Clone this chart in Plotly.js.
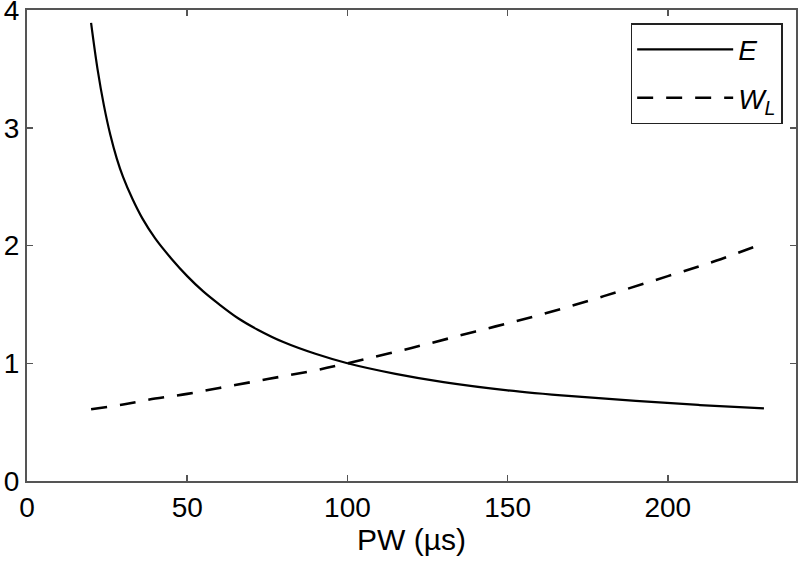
<!DOCTYPE html>
<html>
<head>
<meta charset="utf-8">
<script src="https://cdn.plot.ly/plotly-3.0.1.min.js"></script>
<style>
  html, body { margin: 0; padding: 0; background: #fff; }
  #chart { width: 800px; height: 562px; }
</style>
</head>
<body>
<div id="chart"></div>
<script>
// Pulse width (us) and the two normalised curves
const pwE = [20, 22, 24, 26, 28, 30, 33, 36, 40, 45, 50, 55, 60, 66, 72, 80, 90, 100, 115, 130, 150, 170, 190, 210, 230];
const valuesE = [3.89, 3.50, 3.19, 2.94, 2.74, 2.58, 2.39, 2.23, 2.06, 1.89, 1.74, 1.61, 1.50, 1.38, 1.285, 1.18, 1.08, 1.00, 0.91, 0.84, 0.77, 0.72, 0.68, 0.645, 0.617];

const pwWL = [20, 30, 40, 50, 60, 70, 80, 90, 100, 120, 140, 160, 180, 200, 215, 230];
const valuesWL = [0.61, 0.65, 0.70, 0.74, 0.79, 0.84, 0.89, 0.94, 1.00, 1.13, 1.27, 1.41, 1.57, 1.74, 1.87, 2.02];

const xTicks = [0, 50, 100, 150, 200];
const yTicks = [0, 1, 2, 3, 4];

const axisColor = '#555';
const fontFamily = '"Liberation Sans", Arial, sans-serif';

const data = [
    {
        x: pwE,
        y: valuesE,
        name: '<i>E</i>',
        legendgroup: 'e',
        type: 'scatter',
        mode: 'lines',
        line: { color: '#000', width: 2.2, shape: 'spline', smoothing: 1 }
    },
    {
        x: pwWL,
        y: valuesWL,
        name: '<i>W<sub>L</sub></i>',
        legendgroup: 'wl',
        type: 'scatter',
        mode: 'lines',
        line: { color: '#000', width: 2.6, dash: '16px,13px', shape: 'spline', smoothing: 1 }
    }
];

const layout = {
    width: 800,
    height: 562,
    paper_bgcolor: '#fff',
    plot_bgcolor: '#fff',
    font: { family: fontFamily, size: 28, color: '#000' },
    margin: { l: 27, r: 4, t: 10, b: 81 },
    showlegend: true,
    legend: {
        x: 0.785,
        y: 0.972,
        xanchor: 'left',
        yanchor: 'top',
        bordercolor: '#222',
        borderwidth: 1.5,
        bgcolor: '#fff',
        itemwidth: 96,
        traceorder: 'grouped',
        tracegroupgap: 9,
        font: { family: fontFamily, size: 28, color: '#000' }
    },
    xaxis: {
        range: [0, 240],
        tickvals: xTicks,
        ticks: 'inside',
        ticklen: 6,
        tickwidth: 1.5,
        tickcolor: axisColor,
        showline: true,
        linecolor: axisColor,
        linewidth: 2,
        mirror: 'ticks',
        showgrid: false,
        zeroline: false,
        automargin: false,
        ticklabeloverflow: 'allow',
        tickfont: { size: 28 },
        title: { text: 'PW (µs)', font: { family: fontFamily, size: 30 }, standoff: 4 }
    },
    yaxis: {
        range: [0, 4],
        tickvals: yTicks,
        ticks: 'inside',
        ticklen: 6,
        tickwidth: 1.5,
        tickcolor: axisColor,
        showline: true,
        linecolor: axisColor,
        linewidth: 2,
        mirror: 'ticks',
        showgrid: false,
        zeroline: false,
        automargin: false,
        ticklabeloverflow: 'allow',
        tickfont: { size: 28 }
    }
};

Plotly.newPlot('chart', data, layout, { displayModeBar: false, staticPlot: true });
</script>
</body>
</html>
